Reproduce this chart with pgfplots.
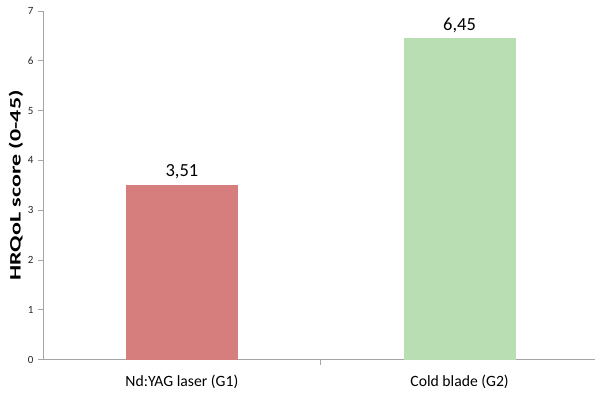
\documentclass[border=0pt]{standalone}
\usepackage{fontspec}
\setmainfont{Carlito}
\newfontfamily\widefont[FakeStretch=1.5]{Carlito}
\usepackage{pgfplots}
\pgfplotsset{compat=1.18}
\definecolor{laserred}{RGB}{214,126,126}
\definecolor{bladegreen}{RGB}{186,222,180}
\definecolor{axisgray}{RGB}{165,165,165}
\begin{document}
\begin{tikzpicture}
\begin{axis}[
  scale only axis,
  width=552pt, height=349pt,
  xmin=-0.5, xmax=1.486,
  ymin=0, ymax=7,
  axis x line*=bottom, axis y line*=left,
  axis line style={axisgray, line width=0.9pt},
  ytick={0,1,...,7},
  % separator tick between the two groups
  xtick={0.5},
  xticklabels={},
  % group names, without tick marks
  extra x ticks={0,1},
  extra x tick labels={Nd:YAG laser (G1), Cold blade (G2)},
  extra x tick style={major tick length=0pt,
    xticklabel style={font=\fontsize{15.7}{19}\selectfont, text=black, yshift=-12pt}},
  tick style={axisgray, line width=0.9pt},
  tick align=outside,
  major tick length=5pt,
  /pgf/number format/assume math mode=true,
  yticklabel style={font=\fontsize{11}{13}\selectfont, text=black!85, xshift=-1pt},
  every axis y label/.style={at={(axis description cs:-0.049,0.5)}, rotate=90, anchor=center},
  ylabel={\widefont\fontsize{16}{19}\selectfont\bfseries HRQoL score (0-45)},
  ybar, bar width=112pt, bar shift=0pt,
  nodes near coords,
  nodes near coords style={font=\fontsize{18.5}{22}\selectfont, anchor=south, yshift=2pt,
    /pgf/number format/.cd, fixed, fixed zerofill, precision=2, use comma},
  clip=false,
]
\addplot[fill=laserred, draw=none] coordinates {(0,3.51)};
\addplot[fill=bladegreen, draw=none] coordinates {(1,6.45)};
% keep a fixed margin around the axis
\path (axis description cs:-0.078,-0.0974) rectangle (axis description cs:1,1.0315);
\end{axis}
\end{tikzpicture}
\end{document}
